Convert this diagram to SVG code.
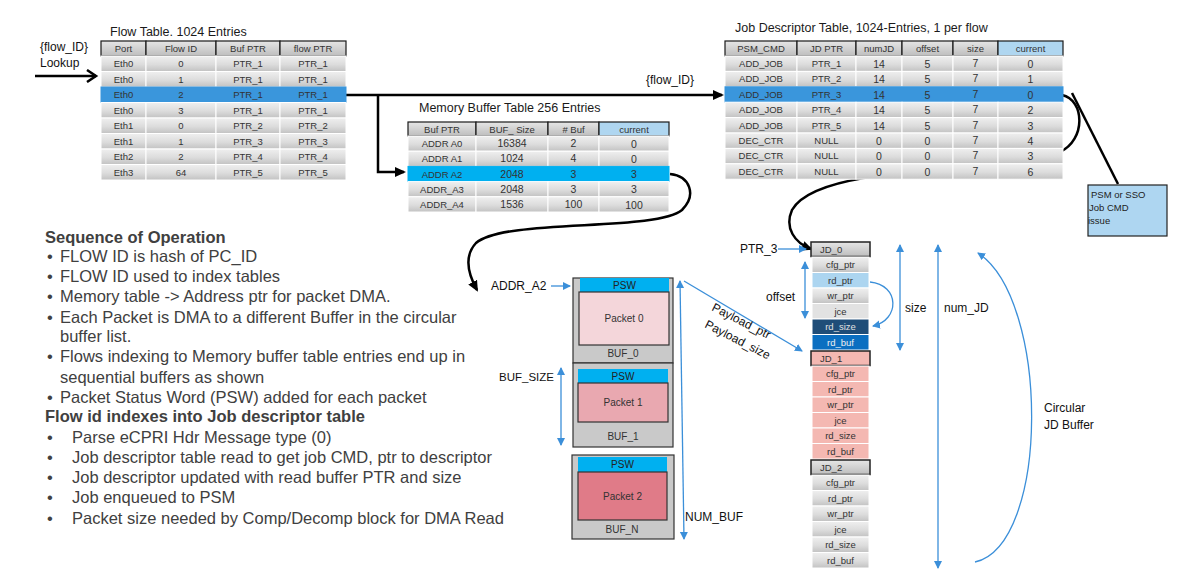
<svg xmlns="http://www.w3.org/2000/svg" width="1204" height="580" viewBox="0 0 1204 580">
<defs>
<linearGradient id="gc" x1="0" y1="0" x2="0" y2="1"><stop offset="0" stop-color="#efefef"/><stop offset="0.55" stop-color="#dcdcdc"/><stop offset="1" stop-color="#c2c2c2"/></linearGradient>
<linearGradient id="gh" x1="0" y1="0" x2="0" y2="1"><stop offset="0" stop-color="#e6e6e6"/><stop offset="1" stop-color="#bdbdbd"/></linearGradient>
<marker id="ab" markerUnits="userSpaceOnUse" markerWidth="12" markerHeight="12" refX="9" refY="6" orient="auto"><path d="M0,1 L11,6 L0,11 z" fill="#000"/></marker>
<marker id="ao" markerUnits="userSpaceOnUse" markerWidth="14" markerHeight="14" refX="11" refY="7" orient="auto"><path d="M2,1 L11,7 L2,13" fill="none" stroke="#000" stroke-width="2.5"/></marker>
<marker id="bl" markerUnits="userSpaceOnUse" markerWidth="9" markerHeight="9" refX="7" refY="4.5" orient="auto"><path d="M0,0.5 L8,4.5 L0,8.5 z" fill="#3b8fd9"/></marker>
<marker id="bls" markerUnits="userSpaceOnUse" markerWidth="9" markerHeight="9" refX="1" refY="4.5" orient="auto"><path d="M8,0.5 L0,4.5 L8,8.5 z" fill="#3b8fd9"/></marker>
</defs>
<style>
.c{fill:url(#gc);stroke:#fff;stroke-width:1}
.h{fill:url(#gh);stroke:#1a1a1a;stroke-width:1.2}
.hc{fill:#afd6f0;stroke:#1a1a1a;stroke-width:1.2}
.hl{fill:#3a96dc;stroke:#3a96dc;stroke-width:1}
.hm{fill:#00b0f0;stroke:#00b0f0;stroke-width:1}
.t{font-family:"Liberation Sans",Arial,sans-serif;font-size:9.5px;fill:#333;text-anchor:middle}
.tn{font-family:"Liberation Sans",Arial,sans-serif;font-size:10.5px;fill:#333;text-anchor:middle}
.tb{font-family:"Liberation Sans",Arial,sans-serif;font-size:10px;fill:#333;text-anchor:middle}
.ti{font-family:"Liberation Sans",Arial,sans-serif;font-size:12.5px;fill:#1a1a1a}
.lb{font-family:"Liberation Sans",Arial,sans-serif;font-size:12px;fill:#111}
.sq{font-family:"Liberation Sans",Arial,sans-serif;font-size:16.5px;fill:#404040}
.sb{font-family:"Liberation Sans",Arial,sans-serif;font-size:16.5px;font-weight:bold;fill:#404040}
.k{fill:none;stroke:#000;stroke-width:2.5}
.b{fill:none;stroke:#3b8fd9;stroke-width:1.3}
.bx{fill:#c9c9c9;stroke:#333;stroke-width:1.2}
.psw{fill:#00b0f0}
.jh{fill:url(#gh);stroke:#222;stroke-width:1.5}
.jc{fill:url(#gc);stroke:#fff;stroke-width:1}
.jp{fill:#f4b8b2;stroke:#fff;stroke-width:1}
.jph{fill:#f4b8b2;stroke:#222;stroke-width:1.5}
</style>

<g id="connectors">
<path class="k" d="M35,76 L96,76" marker-end="url(#ao)"/>
<path class="k" d="M346,95 L722,95" marker-end="url(#ab)"/>
<path class="k" d="M378,95 L378,172 L404,172" marker-end="url(#ab)"/>
<path class="k" d="M670,174 C690,176 697,195 682,210 C655,232 505,218 476,243 C464,256 467,272 477,290" marker-end="url(#ab)"/>
<path class="k" d="M1062,95 C1085,100 1086,140 1060,152"/>
<path class="k" d="M1072,93 L1118,184"/>
<path class="k" d="M998,168 C900,170 810,178 792,210 C784,228 795,243 811,249" marker-end="url(#ab)"/>
<path class="b" d="M551,286 L570,286" marker-end="url(#bl)"/>
<path class="b" d="M561,368 L561,445" marker-start="url(#bls)" marker-end="url(#bl)"/>
<path class="b" d="M680,281 L684,539" marker-start="url(#bls)" marker-end="url(#bl)"/>
<path class="b" d="M684,281 L802,351" marker-end="url(#bl)"/>
<path class="b" d="M778,249 L806,249" marker-end="url(#bl)"/>
<path class="b" d="M805,262 L805,318" marker-start="url(#bls)" marker-end="url(#bl)"/>
<path class="b" d="M870,282 C900,285 900,320 873,326" marker-end="url(#bl)"/>
<path class="b" d="M900,245 L900,350" marker-start="url(#bls)" marker-end="url(#bl)"/>
<path class="b" d="M938,245 L938,568" marker-start="url(#bls)" marker-end="url(#bl)"/>
<path class="b" d="M975,562 C1050,545 1050,300 978,253" marker-end="url(#bl)"/>
</g>

<g id="lookup-label">
<text class="lb" x="40" y="51">{flow_ID}</text>
<text class="lb" x="40" y="67">Lookup</text>
</g>

<g id="flow-table">
<text class="ti" x="110" y="36">Flow Table. 1024 Entries</text>
<rect class="h" x="101" y="41" width="45" height="15"/><rect class="h" x="146" y="41" width="70" height="15"/><rect class="h" x="216" y="41" width="64" height="15"/><rect class="h" x="280" y="41" width="66" height="15"/>
<text class="t" x="123.5" y="52">Port</text><text class="t" x="181" y="52">Flow  ID</text><text class="t" x="248" y="52">Buf PTR</text><text class="t" x="313" y="52">flow PTR</text>
<g>
<rect class="c" x="101" y="56" width="45" height="15.5"/><rect class="c" x="146" y="56" width="70" height="15.5"/><rect class="c" x="216" y="56" width="64" height="15.5"/><rect class="c" x="280" y="56" width="66" height="15.5"/>
<rect class="c" x="101" y="71.5" width="45" height="15.5"/><rect class="c" x="146" y="71.5" width="70" height="15.5"/><rect class="c" x="216" y="71.5" width="64" height="15.5"/><rect class="c" x="280" y="71.5" width="66" height="15.5"/>
<rect class="hl" x="101" y="87" width="245" height="15.5"/>
<rect class="c" x="101" y="102.5" width="45" height="15.5"/><rect class="c" x="146" y="102.5" width="70" height="15.5"/><rect class="c" x="216" y="102.5" width="64" height="15.5"/><rect class="c" x="280" y="102.5" width="66" height="15.5"/>
<rect class="c" x="101" y="118" width="45" height="15.5"/><rect class="c" x="146" y="118" width="70" height="15.5"/><rect class="c" x="216" y="118" width="64" height="15.5"/><rect class="c" x="280" y="118" width="66" height="15.5"/>
<rect class="c" x="101" y="133.5" width="45" height="15.5"/><rect class="c" x="146" y="133.5" width="70" height="15.5"/><rect class="c" x="216" y="133.5" width="64" height="15.5"/><rect class="c" x="280" y="133.5" width="66" height="15.5"/>
<rect class="c" x="101" y="149" width="45" height="15.5"/><rect class="c" x="146" y="149" width="70" height="15.5"/><rect class="c" x="216" y="149" width="64" height="15.5"/><rect class="c" x="280" y="149" width="66" height="15.5"/>
<rect class="c" x="101" y="164.5" width="45" height="15.5"/><rect class="c" x="146" y="164.5" width="70" height="15.5"/><rect class="c" x="216" y="164.5" width="64" height="15.5"/><rect class="c" x="280" y="164.5" width="66" height="15.5"/>
</g>
<g>
<text class="t" x="123.5" y="67">Eth0</text><text class="t" x="181" y="67">0</text><text class="t" x="248" y="67">PTR_1</text><text class="t" x="313" y="67">PTR_1</text>
<text class="t" x="123.5" y="82.5">Eth0</text><text class="t" x="181" y="82.5">1</text><text class="t" x="248" y="82.5">PTR_1</text><text class="t" x="313" y="82.5">PTR_1</text>
<text class="t" x="123.5" y="98">Eth0</text><text class="t" x="181" y="98">2</text><text class="t" x="248" y="98">PTR_1</text><text class="t" x="313" y="98">PTR_1</text>
<text class="t" x="123.5" y="113.5">Eth0</text><text class="t" x="181" y="113.5">3</text><text class="t" x="248" y="113.5">PTR_1</text><text class="t" x="313" y="113.5">PTR_1</text>
<text class="t" x="123.5" y="129">Eth1</text><text class="t" x="181" y="129">0</text><text class="t" x="248" y="129">PTR_2</text><text class="t" x="313" y="129">PTR_2</text>
<text class="t" x="123.5" y="144.5">Eth1</text><text class="t" x="181" y="144.5">1</text><text class="t" x="248" y="144.5">PTR_3</text><text class="t" x="313" y="144.5">PTR_3</text>
<text class="t" x="123.5" y="160">Eth2</text><text class="t" x="181" y="160">2</text><text class="t" x="248" y="160">PTR_4</text><text class="t" x="313" y="160">PTR_4</text>
<text class="t" x="123.5" y="175.5">Eth3</text><text class="t" x="181" y="175.5">64</text><text class="t" x="248" y="175.5">PTR_5</text><text class="t" x="313" y="175.5">PTR_5</text>
</g>
</g>

<g id="flow-id-label"><text class="lb" x="646" y="84">{flow_ID}</text></g>

<g id="mem-table">
<text class="ti" x="419" y="112">Memory Buffer Table 256 Entries</text>
<rect class="h" x="408" y="122" width="68" height="14"/><rect class="h" x="476" y="122" width="72" height="14"/><rect class="h" x="548" y="122" width="51" height="14"/><rect class="hc" x="599" y="122" width="70" height="14"/>
<text class="t" x="442" y="132.5">Buf PTR</text><text class="t" x="512" y="132.5">BUF_ Size</text><text class="t" x="573.5" y="132.5"># Buf</text><text class="t" x="634" y="132.5">current</text>
<rect class="c" x="408" y="136" width="68" height="15.2"/><rect class="c" x="476" y="136" width="72" height="15.2"/><rect class="c" x="548" y="136" width="51" height="15.2"/><rect class="c" x="599" y="136" width="70" height="15.2"/>
<rect class="c" x="408" y="151.2" width="68" height="15.2"/><rect class="c" x="476" y="151.2" width="72" height="15.2"/><rect class="c" x="548" y="151.2" width="51" height="15.2"/><rect class="c" x="599" y="151.2" width="70" height="15.2"/>
<rect class="hm" x="408" y="166.4" width="261" height="15.2"/>
<rect class="c" x="408" y="181.6" width="68" height="15.2"/><rect class="c" x="476" y="181.6" width="72" height="15.2"/><rect class="c" x="548" y="181.6" width="51" height="15.2"/><rect class="c" x="599" y="181.6" width="70" height="15.2"/>
<rect class="c" x="408" y="196.8" width="68" height="15.2"/><rect class="c" x="476" y="196.8" width="72" height="15.2"/><rect class="c" x="548" y="196.8" width="51" height="15.2"/><rect class="c" x="599" y="196.8" width="70" height="15.2"/>
<text class="t" x="442" y="147">ADDR A0</text><text class="tn" x="512" y="147">16384</text><text class="tn" x="573.5" y="147">2</text><text class="tn" x="634" y="147.5">0</text>
<text class="t" x="442" y="162">ADDR A1</text><text class="tn" x="512" y="162">1024</text><text class="tn" x="573.5" y="162">4</text><text class="tn" x="634" y="163">0</text>
<text class="t" x="442" y="177.5">ADDR A2</text><text class="tn" x="512" y="177.5">2048</text><text class="tn" x="573.5" y="177.5">3</text><text class="tn" x="634" y="178">3</text>
<text class="t" x="442" y="192.5">ADDR_A3</text><text class="tn" x="512" y="192.5">2048</text><text class="tn" x="573.5" y="192.5">3</text><text class="tn" x="634" y="193">3</text>
<text class="t" x="442" y="208">ADDR_A4</text><text class="tn" x="512" y="208">1536</text><text class="tn" x="573.5" y="208">100</text><text class="tn" x="634" y="208.5">100</text>
</g>

<g id="jd-table">
<text class="ti" x="735" y="32">Job Descriptor Table, 1024-Entries, 1 per flow</text>
<rect class="h" x="725" y="41" width="72" height="15"/><rect class="h" x="797" y="41" width="59" height="15"/><rect class="h" x="856" y="41" width="46" height="15"/><rect class="h" x="902" y="41" width="51" height="15"/><rect class="h" x="953" y="41" width="45" height="15"/><rect class="hc" x="998" y="41" width="65" height="15"/>
<text class="t" x="761" y="52">PSM_CMD</text><text class="t" x="826.5" y="52">JD PTR</text><text class="t" x="879" y="52">numJD</text><text class="t" x="927.5" y="52">offset</text><text class="t" x="975.5" y="52">size</text><text class="t" x="1030.5" y="52">current</text>
<g>
<rect class="c" x="725" y="56" width="72" height="15.4"/><rect class="c" x="797" y="56" width="59" height="15.4"/><rect class="c" x="856" y="56" width="46" height="15.4"/><rect class="c" x="902" y="56" width="51" height="15.4"/><rect class="c" x="953" y="56" width="45" height="15.4"/><rect class="c" x="998" y="56" width="65" height="15.4"/>
<rect class="c" x="725" y="71.4" width="72" height="15.4"/><rect class="c" x="797" y="71.4" width="59" height="15.4"/><rect class="c" x="856" y="71.4" width="46" height="15.4"/><rect class="c" x="902" y="71.4" width="51" height="15.4"/><rect class="c" x="953" y="71.4" width="45" height="15.4"/><rect class="c" x="998" y="71.4" width="65" height="15.4"/>
<rect class="hl" x="725" y="86.8" width="338" height="15.4"/>
<rect class="c" x="725" y="102.2" width="72" height="15.4"/><rect class="c" x="797" y="102.2" width="59" height="15.4"/><rect class="c" x="856" y="102.2" width="46" height="15.4"/><rect class="c" x="902" y="102.2" width="51" height="15.4"/><rect class="c" x="953" y="102.2" width="45" height="15.4"/><rect class="c" x="998" y="102.2" width="65" height="15.4"/>
<rect class="c" x="725" y="117.6" width="72" height="15.4"/><rect class="c" x="797" y="117.6" width="59" height="15.4"/><rect class="c" x="856" y="117.6" width="46" height="15.4"/><rect class="c" x="902" y="117.6" width="51" height="15.4"/><rect class="c" x="953" y="117.6" width="45" height="15.4"/><rect class="c" x="998" y="117.6" width="65" height="15.4"/>
<rect class="c" x="725" y="133" width="72" height="15.4"/><rect class="c" x="797" y="133" width="59" height="15.4"/><rect class="c" x="856" y="133" width="46" height="15.4"/><rect class="c" x="902" y="133" width="51" height="15.4"/><rect class="c" x="953" y="133" width="45" height="15.4"/><rect class="c" x="998" y="133" width="65" height="15.4"/>
<rect class="c" x="725" y="148.4" width="72" height="15.4"/><rect class="c" x="797" y="148.4" width="59" height="15.4"/><rect class="c" x="856" y="148.4" width="46" height="15.4"/><rect class="c" x="902" y="148.4" width="51" height="15.4"/><rect class="c" x="953" y="148.4" width="45" height="15.4"/><rect class="c" x="998" y="148.4" width="65" height="15.4"/>
<rect class="c" x="725" y="163.8" width="72" height="15.4"/><rect class="c" x="797" y="163.8" width="59" height="15.4"/><rect class="c" x="856" y="163.8" width="46" height="15.4"/><rect class="c" x="902" y="163.8" width="51" height="15.4"/><rect class="c" x="953" y="163.8" width="45" height="15.4"/><rect class="c" x="998" y="163.8" width="65" height="15.4"/>
</g>
<g>
<text class="t" x="761" y="67">ADD_JOB</text><text class="t" x="826.5" y="67">PTR_1</text><text class="tn" x="879" y="68">14</text><text class="tn" x="927.5" y="68">5</text><text class="tn" x="975.5" y="67">7</text><text class="tn" x="1030.5" y="68">0</text>
<text class="t" x="761" y="82.4">ADD_JOB</text><text class="t" x="826.5" y="82.4">PTR_2</text><text class="tn" x="879" y="83.4">14</text><text class="tn" x="927.5" y="83.4">5</text><text class="tn" x="975.5" y="82.4">7</text><text class="tn" x="1030.5" y="83.4">1</text>
<text class="t" x="761" y="97.8">ADD_JOB</text><text class="t" x="826.5" y="97.8">PTR_3</text><text class="tn" x="879" y="98.8">14</text><text class="tn" x="927.5" y="98.8">5</text><text class="tn" x="975.5" y="97.8">7</text><text class="tn" x="1030.5" y="98.8">0</text>
<text class="t" x="761" y="113.2">ADD_JOB</text><text class="t" x="826.5" y="113.2">PTR_4</text><text class="tn" x="879" y="114.2">14</text><text class="tn" x="927.5" y="114.2">5</text><text class="tn" x="975.5" y="113.2">7</text><text class="tn" x="1030.5" y="114.2">2</text>
<text class="t" x="761" y="128.6">ADD_JOB</text><text class="t" x="826.5" y="128.6">PTR_5</text><text class="tn" x="879" y="129.6">14</text><text class="tn" x="927.5" y="129.6">5</text><text class="tn" x="975.5" y="128.6">7</text><text class="tn" x="1030.5" y="129.6">3</text>
<text class="t" x="761" y="144">DEC_CTR</text><text class="t" x="826.5" y="144">NULL</text><text class="tn" x="879" y="145">0</text><text class="tn" x="927.5" y="145">0</text><text class="tn" x="975.5" y="144">7</text><text class="tn" x="1030.5" y="145">4</text>
<text class="t" x="761" y="159.4">DEC_CTR</text><text class="t" x="826.5" y="159.4">NULL</text><text class="tn" x="879" y="160.4">0</text><text class="tn" x="927.5" y="160.4">0</text><text class="tn" x="975.5" y="159.4">7</text><text class="tn" x="1030.5" y="160.4">3</text>
<text class="t" x="761" y="174.8">DEC_CTR</text><text class="t" x="826.5" y="174.8">NULL</text><text class="tn" x="879" y="175.8">0</text><text class="tn" x="927.5" y="175.8">0</text><text class="tn" x="975.5" y="174.8">7</text><text class="tn" x="1030.5" y="175.8">6</text>
</g>
</g>

<g id="psm-box">
<rect x="1088" y="185" width="79" height="51" fill="#aed6f1" stroke="#222" stroke-width="1.2"/>
<text class="t" x="1091" y="198" style="text-anchor:start;fill:#222">PSM or SSO</text>
<text class="t" x="1089" y="211" style="text-anchor:start;fill:#222">Job CMD</text>
<text class="t" x="1088" y="224" style="text-anchor:start;fill:#222">issue</text>
</g>

<g id="sequence-text">
<text class="sb" x="45" y="243">Sequence of Operation</text>
<text class="sq" x="47" y="262">•</text><text class="sq" x="60" y="262">FLOW ID is hash of PC_ID</text>
<text class="sq" x="47" y="282">•</text><text class="sq" x="60" y="282">FLOW ID used to index tables</text>
<text class="sq" x="47" y="302">•</text><text class="sq" x="60" y="302">Memory table -&gt; Address ptr for packet DMA.</text>
<text class="sq" x="47" y="323">•</text><text class="sq" x="60" y="323">Each Packet is DMA to a different Buffer in the circular</text>
<text class="sq" x="60" y="342">buffer list.</text>
<text class="sq" x="47" y="362">•</text><text class="sq" x="60" y="362">Flows indexing to Memory buffer table entries end up in</text>
<text class="sq" x="60" y="383">sequential buffers as shown</text>
<text class="sq" x="47" y="403">•</text><text class="sq" x="60" y="403">Packet Status Word (PSW) added for each packet</text>
<text class="sb" x="45" y="422">Flow id indexes into Job descriptor table</text>
<text class="sq" x="47" y="443">•</text><text class="sq" x="72" y="443">Parse eCPRI Hdr Message type (0)</text>
<text class="sq" x="47" y="463">•</text><text class="sq" x="72" y="463">Job descriptor table read to get job CMD, ptr to descriptor</text>
<text class="sq" x="47" y="483">•</text><text class="sq" x="72" y="483">Job descriptor updated with read buffer PTR and size</text>
<text class="sq" x="47" y="503">•</text><text class="sq" x="72" y="503">Job enqueued to PSM</text>
<text class="sq" x="47" y="524">•</text><text class="sq" x="72" y="524">Packet size needed by Comp/Decomp block for DMA Read</text>
</g>

<g id="buf-0">
<rect class="bx" x="573" y="278" width="100" height="85"/>
<rect class="psw" x="580" y="278" width="89" height="14"/>
<text class="tb" x="624.5" y="289" style="fill:#222">PSW</text>
<rect x="579" y="292" width="90" height="53" fill="#f4d6da" stroke="#333" stroke-width="1.2"/>
<text class="tb" x="624" y="322" style="fill:#333">Packet 0</text>
<text class="tb" x="623" y="357" style="fill:#333">BUF_0</text>
</g>
<g id="buf-1">
<rect class="bx" x="573" y="363" width="100" height="84"/>
<rect class="psw" x="578" y="369" width="90" height="14"/>
<text class="tb" x="623" y="380" style="fill:#222">PSW</text>
<rect x="578" y="383" width="90" height="39" fill="#e9a8b0" stroke="#333" stroke-width="1.2"/>
<text class="tb" x="623" y="406" style="fill:#333">Packet 1</text>
<text class="tb" x="623" y="440" style="fill:#333">BUF_1</text>
</g>
<g id="buf-n">
<rect class="bx" x="572" y="455" width="102" height="84"/>
<rect class="psw" x="578" y="457" width="89" height="15"/>
<text class="tb" x="622.5" y="468" style="fill:#222">PSW</text>
<rect x="578" y="472" width="89" height="48" fill="#e07b88" stroke="#333" stroke-width="1.2"/>
<text class="tb" x="622.5" y="500" style="fill:#333">Packet 2</text>
<text class="tb" x="622" y="533" style="fill:#333">BUF_N</text>
</g>

<g id="buffer-labels">
<text class="lb" x="491" y="290">ADDR_A2</text>
<text class="lb" x="499" y="381" style="font-size:11.5px">BUF_SIZE</text>
<text class="lb" x="685" y="521">NUM_BUF</text>
<text class="lb" x="711" y="310" transform="rotate(27 711 310)">Payload_ptr</text>
<text class="lb" x="704" y="327" transform="rotate(27 704 327)">Payload_size</text>
</g>

<g id="jd-buffer">
<rect class="jh" x="811" y="242" width="59" height="14.5"/>
<rect class="jc" x="812" y="257" width="57" height="15.5"/>
<rect x="812" y="272.5" width="57" height="15.5" fill="#acd5f0" stroke="#fff"/>
<rect class="jc" x="812" y="288" width="57" height="15.5"/>
<rect x="812" y="303.5" width="57" height="15.5" fill="#e2e2e2" stroke="#fff"/>
<rect x="812" y="319" width="57" height="15.5" fill="#1f4d78" stroke="#fff"/>
<rect x="812" y="334.5" width="57" height="15.5" fill="#0b6fc1" stroke="#fff"/>
<rect class="jph" x="811" y="351" width="59" height="14.5"/>
<rect class="jp" x="812" y="366" width="57" height="15.5"/>
<rect class="jp" x="812" y="381.5" width="57" height="15.5"/>
<rect class="jp" x="812" y="397" width="57" height="15.5"/>
<rect class="jp" x="812" y="412.5" width="57" height="15.5"/>
<rect class="jp" x="812" y="428" width="57" height="15.5"/>
<rect class="jp" x="812" y="443.5" width="57" height="15.5"/>
<rect class="jh" x="811" y="460" width="59" height="14.5"/>
<rect class="jc" x="812" y="475" width="57" height="15.5"/>
<rect class="jc" x="812" y="490.5" width="57" height="15.5"/>
<rect class="jc" x="812" y="506" width="57" height="15.5"/>
<rect class="jc" x="812" y="521.5" width="57" height="15.5"/>
<rect class="jc" x="812" y="537" width="57" height="15.5"/>
<rect class="jc" x="812" y="552.5" width="57" height="15.5"/>
<text class="t" x="820" y="252.5" style="text-anchor:start">JD_0</text>
<text class="t" x="840.5" y="268">cfg_ptr</text>
<text class="t" x="840.5" y="283.5">rd_ptr</text>
<text class="t" x="840.5" y="299">wr_ptr</text>
<text class="t" x="840.5" y="314.5">jce</text>
<text class="t" x="840.5" y="330" style="fill:#e0e0e0">rd_size</text>
<text class="t" x="840.5" y="345.5" style="fill:#f0f0f0">rd_buf</text>
<text class="t" x="820" y="361.5" style="text-anchor:start">JD_1</text>
<text class="t" x="840.5" y="377">cfg_ptr</text>
<text class="t" x="840.5" y="392.5">rd_ptr</text>
<text class="t" x="840.5" y="408">wr_ptr</text>
<text class="t" x="840.5" y="423.5">jce</text>
<text class="t" x="840.5" y="439">rd_size</text>
<text class="t" x="840.5" y="454.5">rd_buf</text>
<text class="t" x="820" y="470.5" style="text-anchor:start">JD_2</text>
<text class="t" x="840.5" y="486">cfg_ptr</text>
<text class="t" x="840.5" y="501.5">rd_ptr</text>
<text class="t" x="840.5" y="517">wr_ptr</text>
<text class="t" x="840.5" y="532.5">jce</text>
<text class="t" x="840.5" y="548">rd_size</text>
<text class="t" x="840.5" y="563.5">rd_buf</text>
</g>

<g id="jd-labels">
<text class="lb" x="740" y="253">PTR_3</text>
<text class="lb" x="766" y="301">offset</text>
<text class="lb" x="905" y="312">size</text>
<text class="lb" x="944" y="312">num_JD</text>
<text class="lb" x="1044" y="412">Circular</text>
<text class="lb" x="1044" y="429">JD Buffer</text>
</g>
</svg>
